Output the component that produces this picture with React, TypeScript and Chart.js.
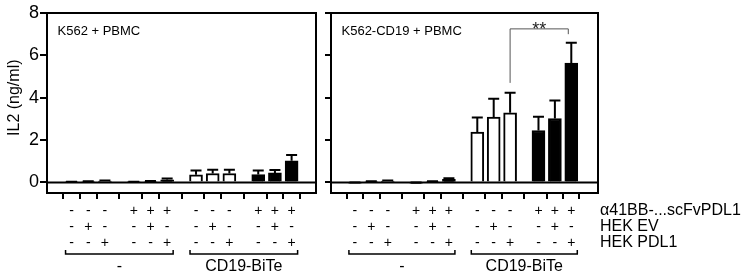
import React, { useEffect, useRef } from "react";
import { Chart, registerables } from "chart.js";

Chart.register(...registerables);

// ---------- data ----------
const alpha41BB = ["-", "-", "-", "+", "+", "+", "-", "-", "-", "+", "+", "+"];
const hekEV = ["-", "+", "-", "-", "+", "-", "-", "+", "-", "-", "+", "-"];
const hekPDL1 = ["-", "-", "+", "-", "-", "+", "-", "-", "+", "-", "-", "+"];
const rowLabels = ["α41BB-...scFvPDL1", "HEK EV", "HEK PDL1"];
const groupLabels = ["-", "CD19-BiTe"];
const yTickValues = [0, 2, 4, 6, 8];
const yTitle = "IL2 (ng/ml)";

const panelTitles = ["K562 + PBMC", "K562-CD19 + PBMC"];
const k562Means = [0.01, 0.03, 0.06, 0.01, 0.04, 0.12, 0.36, 0.42, 0.42, 0.37, 0.45, 1.02];
const k562Errors = [0.02, 0.02, 0.03, 0.02, 0.03, 0.07, 0.2, 0.18, 0.18, 0.19, 0.14, 0.27];
const cd19Means = [-0.03, 0.03, 0.06, -0.03, 0.03, 0.14, 2.38, 3.09, 3.29, 2.45, 3.02, 5.63];
const cd19Errors = [0.02, 0.02, 0.03, 0.02, 0.02, 0.06, 0.68, 0.86, 0.94, 0.65, 0.85, 0.97];

const sigLabel = "**";
const sigBars = [8, 11];
const sigLevels = [4.7, 7.25, 7.0]; // left foot, top, right foot

// ---------- layout helpers ----------
const GROUP_GAP = 0.73;
const barPositions = alpha41BB.map((_, i) => Math.floor(i / 3) * (3 + GROUP_GAP) + (i % 3));

const FONT = "'Liberation Sans', Arial, Helvetica, sans-serif";
Chart.defaults.font.family = FONT;
Chart.defaults.color = "#000";

const TICK_LEN_X = 6;
const TICK_PAD_X = 4;
const ROW_FONT = 14;
const ROW_LH = 1.133;

type PanelSpec = {
  means: number[];
  errors: number[];
  title: string;
  left: boolean;
  xMin: number;
  xMax: number;
  yAxisWidth: number;
  padRight: number;
};

function buildChart(canvas: HTMLCanvasElement, spec: PanelSpec) {
  const { means, errors } = spec;
  const data = means.map((m, i) => ({ x: barPositions[i], y: m }));
  const fills = alpha41BB.map((a) => (a === "+" ? "#000" : "#fff"));

  const panelPlugin = {
    id: "panelDeco" + (spec.left ? "L" : "R"),
    afterDatasetsDraw(chart: any) {
      const ctx = chart.ctx;
      const ys = chart.scales.y;
      const area = chart.chartArea;
      ctx.save();
      ctx.strokeStyle = "#000";
      ctx.lineWidth = 2;
      // zero line
      const y0 = ys.getPixelForValue(0);
      ctx.beginPath();
      ctx.moveTo(area.left, y0);
      ctx.lineTo(area.right, y0);
      ctx.stroke();
      // error bars (upper only)
      const meta = chart.getDatasetMeta(0);
      meta.data.forEach((bar: any, i: number) => {
        const yb = ys.getPixelForValue(means[i]);
        const yt = ys.getPixelForValue(means[i] + errors[i]);
        ctx.beginPath();
        ctx.moveTo(bar.x, yb);
        ctx.lineTo(bar.x, yt);
        ctx.moveTo(bar.x - 5.5, yt);
        ctx.lineTo(bar.x + 5.5, yt);
        ctx.stroke();
      });
      // frame
      ctx.strokeRect(area.left, area.top, area.right - area.left, area.bottom - area.top);
      ctx.restore();
    },
    afterDraw(chart: any) {
      const ctx = chart.ctx;
      const xs = chart.scales.x;
      const ys = chart.scales.y;
      const area = chart.chartArea;
      ctx.save();
      ctx.fillStyle = "#000";
      ctx.strokeStyle = "#000";

      // panel title
      ctx.font = `13px ${FONT}`;
      ctx.textAlign = "left";
      ctx.textBaseline = "middle";
      ctx.fillText(spec.title, area.left + 10.5, area.top + 18);

      // y title
      if (spec.left) {
        ctx.save();
        const cy = (ys.getPixelForValue(0) + ys.getPixelForValue(8)) / 2;
        ctx.translate(15, cy);
        ctx.rotate(-Math.PI / 2);
        ctx.font = `16px ${FONT}`;
        ctx.textAlign = "center";
        ctx.textBaseline = "middle";
        ctx.fillText(yTitle, 0, 0);
        ctx.restore();
      }

      // group brackets + labels
      const by = 254;
      ctx.lineWidth = 1.5;
      groupLabels.forEach((lab, g) => {
        const xa = xs.getPixelForValue(barPositions[g * 6]) - 6;
        const xb = xs.getPixelForValue(barPositions[g * 6 + 5]) + 6;
        ctx.beginPath();
        ctx.moveTo(xa, by - 4);
        ctx.lineTo(xa, by);
        ctx.lineTo(xb, by);
        ctx.lineTo(xb, by - 4);
        ctx.stroke();
        ctx.font = `16px ${FONT}`;
        ctx.textAlign = "center";
        ctx.textBaseline = "middle";
        ctx.fillText(lab, (xa + xb) / 2, 266.5);
      });

      if (!spec.left) {
        // row labels
        const lh = ROW_FONT * ROW_LH;
        const base = xs.top + TICK_LEN_X + TICK_PAD_X;
        ctx.font = `16px ${FONT}`;
        ctx.textAlign = "left";
        ctx.textBaseline = "middle";
        rowLabels.forEach((lab, r) => {
          ctx.fillText(lab, area.right + 2, base + lh * (r + 0.5));
        });

        // significance bracket
        const x1 = xs.getPixelForValue(barPositions[sigBars[0]]);
        const x2 = xs.getPixelForValue(barPositions[sigBars[1]]) - 3;
        const yl = ys.getPixelForValue(sigLevels[0]);
        const yt = ys.getPixelForValue(sigLevels[1]);
        const yr = ys.getPixelForValue(sigLevels[2]);
        ctx.strokeStyle = "#555";
        ctx.lineWidth = 1;
        ctx.beginPath();
        ctx.moveTo(x1, yl);
        ctx.lineTo(x1, yt);
        ctx.lineTo(x2, yt);
        ctx.lineTo(x2, yr);
        ctx.stroke();
        ctx.fillStyle = "#222";
        ctx.font = `18px ${FONT}`;
        ctx.textAlign = "center";
        ctx.textBaseline = "alphabetic";
        ctx.fillText(sigLabel, (x1 + x2) / 2, yt + 6);
      }
      ctx.restore();
    },
  };

  return new Chart(canvas, {
    type: "bar",
    data: {
      datasets: [
        {
          data,
          backgroundColor: fills,
          borderColor: "#000",
          borderWidth: 2,
          borderSkipped: "start",
          barThickness: 13,
        } as any,
      ],
    },
    options: {
      responsive: false,
      animation: false,
      events: [],
      layout: { padding: { top: 13, right: spec.padRight, left: 0, bottom: 0 } },
      plugins: {
        legend: { display: false },
        tooltip: { enabled: false },
        title: { display: false },
      },
      scales: {
        x: {
          type: "linear",
          min: spec.xMin,
          max: spec.xMax,
          afterBuildTicks: (scale: any) => {
            scale.ticks = barPositions.map((v) => ({ value: v }));
          },
          afterFit: (scale: any) => {
            scale.height = 87;
          },
          ticks: {
            autoSkip: false,
            maxRotation: 0,
            minRotation: 0,
            padding: TICK_PAD_X,
            color: "#000",
            font: { size: ROW_FONT, lineHeight: ROW_LH },
            callback: (_v: any, i: number) => [alpha41BB[i], hekEV[i], hekPDL1[i]],
          },
          grid: {
            display: true,
            drawOnChartArea: false,
            drawTicks: true,
            tickLength: TICK_LEN_X,
            color: "#000",
            lineWidth: 2,
          },
          border: { display: false },
        },
        y: {
          type: "linear",
          min: -0.5,
          max: 8,
          afterBuildTicks: (scale: any) => {
            scale.ticks = yTickValues.map((v) => ({ value: v }));
          },
          afterFit: (scale: any) => {
            scale.width = spec.yAxisWidth;
          },
          ticks: {
            padding: 1,
            color: "#000",
            font: { size: 18 },
            callback: (v: any) => (spec.left ? String(v) : ""),
          },
          grid: {
            display: true,
            drawOnChartArea: false,
            drawTicks: true,
            tickLength: spec.left ? 7 : 6,
            color: "#000",
            lineWidth: 2,
          },
          border: { display: false },
          title: { display: false },
        },
      },
    } as any,
    plugins: [panelPlugin as any],
  });
}

const LEFT_W = 322;
const RIGHT_W = 751 - LEFT_W;

export default function App() {
  const leftRef = useRef<HTMLCanvasElement | null>(null);
  const rightRef = useRef<HTMLCanvasElement | null>(null);

  useEffect(() => {
    const charts: Chart[] = [];
    if (leftRef.current) {
      charts.push(
        buildChart(leftRef.current, {
          means: k562Means,
          errors: k562Errors,
          title: panelTitles[0],
          left: true,
          xMin: -0.8,
          xMax: 13.98,
          yAxisWidth: 47,
          padRight: LEFT_W - 316,
        })
      );
    }
    if (rightRef.current) {
      charts.push(
        buildChart(rightRef.current, {
          means: cd19Means,
          errors: cd19Errors,
          title: panelTitles[1],
          left: false,
          xMin: -0.78,
          xMax: 14.14,
          yAxisWidth: 331 - LEFT_W,
          padRight: RIGHT_W - (598 - LEFT_W),
        })
      );
    }
    return () => charts.forEach((c) => c.destroy());
  }, []);

  return (
    <div style={{ position: "absolute", left: 0, top: 0, width: 751, height: 280, background: "#fff" }}>
      <canvas
        ref={leftRef}
        width={LEFT_W}
        height={280}
        style={{ position: "absolute", left: 0, top: 0, display: "block" }}
      />
      <canvas
        ref={rightRef}
        width={RIGHT_W}
        height={280}
        style={{ position: "absolute", left: LEFT_W, top: 0, display: "block" }}
      />
    </div>
  );
}
